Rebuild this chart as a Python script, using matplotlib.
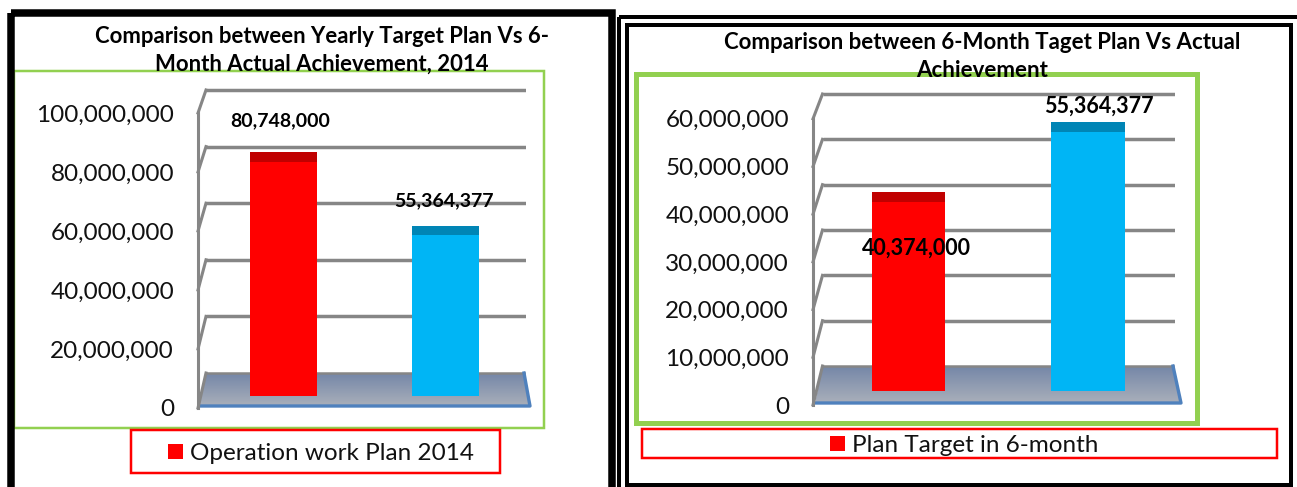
"""Two 3-D looking column charts, rebuilt from flat planes (back wall, bars, front axis)."""
import numpy as np
import matplotlib
matplotlib.use("Agg")
import matplotlib.pyplot as plt
from matplotlib.patches import Rectangle, Polygon

plt.rcParams["font.family"] = ["Lato", "DejaVu Sans"]

W, H = 1297, 487

# data
left_title = "Comparison between Yearly Target Plan Vs 6-\nMonth Actual Achievement, 2014"
left_values = [80748000, 55364377]
left_ticks = [0, 20000000, 40000000, 60000000, 80000000, 100000000]
left_legend = "Operation work Plan 2014"

right_title = "Comparison between 6-Month Taget Plan Vs Actual\nAchievement"
right_values = [40374000, 55364377]
right_ticks = [0, 10000000, 20000000, 30000000, 40000000, 50000000, 60000000]
right_legend = "Plan Target in 6-month"

bar_colors = ["#ff0000", "#00b5f5"]
top_colors = ["#c00000", "#0085b5"]
GRID = "#868686"
GREEN = "#92d050"

fig = plt.figure(figsize=(W / 100, H / 100), dpi=100, facecolor="white")

# pixel canvas for frames, floor and legend boxes
bg = fig.add_axes([0, 0, 1, 1], zorder=0)
bg.set_xlim(0, W)
bg.set_ylim(H, 0)
bg.axis("off")


def plane(x0, x1, y0, scale, top, zorder):
    """Transparent axes: value 0 sits at pixel row y0, `scale` pixels per unit."""
    ax = fig.add_axes([x0 / W, 1 - y0 / H, (x1 - x0) / W, (y0 - top) / H], zorder=zorder)
    ax.set_ylim(0, (y0 - top) / scale)
    ax.patch.set_alpha(0)
    for s in ax.spines.values():
        s.set_visible(False)
    ax.set_xticks([])
    ax.set_yticks([])
    return ax


def box(x0, y0, x1, y1, color, lw):
    bg.add_patch(Rectangle((x0, y0), x1 - x0, y1 - y0, fill=False, ec=color, lw=lw * 0.72,
                           clip_on=False))


def chart(title, title_xy, values, ticks, legend, back, bars, front, floor, label_off,
          bar_span, depth, tick_x, tick_fs, green, green_lw, lbox, swatch, legend_x, legend_fs,
          title_fs, label_fs):
    bx0, bx1, by0, bscale = back
    fx, fy0, fscale = front
    top_px = min(by0 - bscale * ticks[-1], fy0 - fscale * ticks[-1]) - 5

    # green chart-area border, title goes over it
    box(*green, GREEN, green_lw)
    fig.text(title_xy[0] / W, 1 - title_xy[1] / H, title, ha="center", va="center",
             fontsize=title_fs, fontweight="bold", color="black", linespacing=1.36, zorder=9)

    # floor with its gradient
    fl = floor
    poly = Polygon([(fl[0], fl[4]), (fl[1], fl[4]), (fl[3], fl[5]), (fl[2], fl[5])],
                   closed=True, transform=bg.transData, fc="none", ec="none")
    bg.add_patch(poly)
    grad = np.linspace(0, 1, 40).reshape(-1, 1)
    cmap = matplotlib.colors.LinearSegmentedColormap.from_list("floor", ["#7587a8", "#a9afba"])
    im = bg.imshow(grad, cmap=cmap, aspect="auto", extent=(fl[2], fl[3], fl[5], fl[4]), zorder=1)
    im.set_clip_path(poly)
    bg.set_xlim(0, W)
    bg.set_ylim(H, 0)
    bg.plot([fl[0], fl[1]], [fl[4], fl[4]], color=GRID, lw=1.8, zorder=2)
    bg.plot([fl[1], fl[3], fl[2]], [fl[4], fl[5], fl[5]], color="#4f81bd", lw=2.4, zorder=2)

    # back wall gridlines, drawn from the tick values
    wall = plane(bx0, bx1, by0, bscale, top_px, 1)
    wall.set_xlim(0, 1)
    wall.hlines(ticks[1:], 0, 1, color=GRID, lw=2.5)

    # side wall: the diagonal from each gridline to the front axis
    for t in ticks:
        bg.plot([bx0, fx], [by0 - bscale * t, fy0 - fscale * t], color=GRID, lw=2.2, zorder=3)
    bg.plot([fx, fx], [fy0, fy0 - fscale * ticks[-1]], color=GRID, lw=2.2, zorder=3)

    # front axis carries the tick labels
    axis = plane(fx, fx + 20, fy0, fscale, top_px, 2)
    axis.set_yticks(ticks)
    axis.set_yticklabels([f"{t:,}" for t in ticks], fontsize=tick_fs, color="#111111")
    axis.tick_params(axis="y", length=0, pad=(fx - tick_x) * 0.72)

    # bars
    cx0, cx1, cy0, cscale = bars
    ax = plane(cx0, cx1, cy0, cscale, top_px, 3)
    ax.set_xlim(-0.5, 1.5)
    x = np.arange(len(values))
    ax.bar(x, values, width=bar_span, color=bar_colors)
    ax.bar(x, depth / cscale, width=bar_span, bottom=values, color=top_colors)
    for i, v in enumerate(values):
        ax.annotate(f"{v:,}", (x[i], v), xytext=label_off[i], textcoords="offset pixels",
                    ha="center", va="center", fontsize=label_fs, fontweight="bold",
                    color="black", annotation_clip=False)

    # legend
    box(*lbox, "#ff0000", 2.5)
    bg.add_patch(Rectangle((swatch[0], swatch[1]), swatch[2], swatch[2], fc="#ff0000", ec="none"))
    bg.text(legend_x, swatch[1] + swatch[2] / 2, legend, ha="left", va="center_baseline",
            fontsize=legend_fs, color="#111111")


chart(left_title, (322, 50.5), left_values, left_ticks, left_legend,
      back=(206, 526, 373, 283 / 100e6),
      bars=(202.5, 526.5, 396, 2.9 / 1e6),
      front=(198, 408, 2.95 / 1e6),
      floor=(206, 524, 199, 530, 373, 406),
      label_off=[(-3, 41), (-2, 35)],
      bar_span=0.414, depth=9.5, tick_x=174, tick_fs=17.5,
      green=(14, 71, 544, 428), green_lw=2.5,
      lbox=(131, 430, 500, 473), swatch=(168, 444, 15), legend_x=190, legend_fs=17.5,
      title_fs=15.9, label_fs=14)

chart(right_title, (982, 56.5), right_values, right_ticks, right_legend,
      back=(822.5, 1175, 366, 272 / 60e6),
      bars=(818.75, 1177.75, 391, 4.67 / 1e6),
      front=(813, 405, 4.77 / 1e6),
      floor=(822.5, 1173, 815, 1181, 366, 403),
      label_off=[(8, -46), (11, 26)],
      bar_span=0.41, depth=10, tick_x=789, tick_fs=17.5,
      green=(636, 74, 1197, 423), green_lw=5,
      lbox=(642, 429, 1277, 458), swatch=(830, 436, 15), legend_x=852, legend_fs=17.5,
      title_fs=16, label_fs=15.5)

# black frames; the right hand one runs off the page
box(10.5, 12.5, 612, H + 10, "black", 7.5)
box(619, 17, W + 10, H + 10, "black", 4)
box(627, 25, 1291, 485, "black", 4)

fig.savefig("out.png", dpi=100)
